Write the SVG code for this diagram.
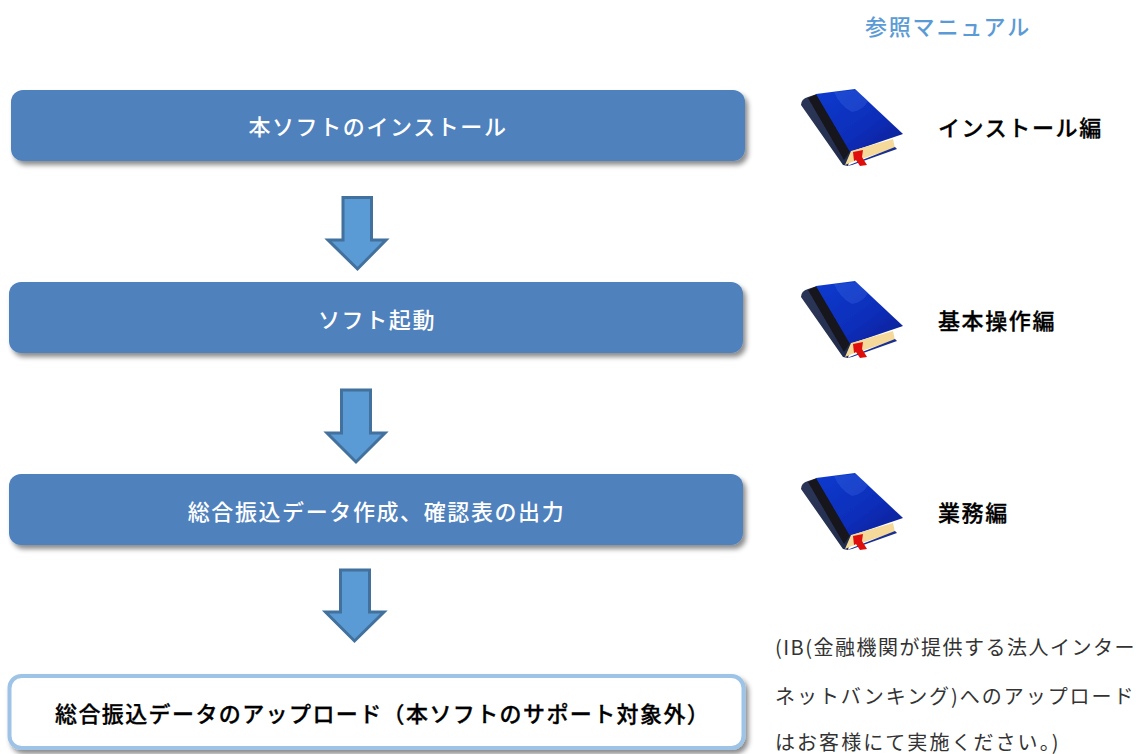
<svg xmlns="http://www.w3.org/2000/svg" width="1138" height="754" viewBox="0 0 1138 754">
<style>
text{font-family:"Noto Sans CJK JP","Noto Sans CJK SC",sans-serif;font-weight:500}
.box{fill:#4f81bd;filter:url(#sh)}
.wt{fill:#fff;font-size:22px;text-anchor:middle;letter-spacing:1.600px}
.lab{fill:#000;font-size:22px;letter-spacing:1.600px;stroke:#000;stroke-width:.3px}
.note{fill:#333;font-size:20px;font-weight:400;letter-spacing:1.500px}
.arrow{fill:#5b9bd5;stroke:#41719c;stroke-width:3}
</style>
<defs>
<filter id="sh" x="-5%" y="-20%" width="110%" height="150%"><feDropShadow dx="3" dy="4" stdDeviation="2.500" flood-color="#000" flood-opacity=".45"/></filter>
<filter id="soft" x="-5%" y="-5%" width="110%" height="110%"><feGaussianBlur stdDeviation=".6"/></filter>
<linearGradient id="cov" x1="0" y1="0" x2="1" y2="1"><stop offset="0" stop-color="#0b3bcf"/><stop offset=".6" stop-color="#0a2db8"/><stop offset="1" stop-color="#061e90"/></linearGradient>
<linearGradient id="spn" x1="0" y1="0" x2="1" y2="1"><stop offset="0" stop-color="#2d3757"/><stop offset="1" stop-color="#222c4c"/></linearGradient>
<g id="book" filter="url(#soft)">
<path d="M801 105Q801 99 808 97L817 94L852 150L848 166L843 165Z" fill="url(#spn)"/>
<path d="M808 98L817 94L851 150L844 160Z" fill="#14161f"/>
<path d="M816 94L855 89L903 134L850 152Z" fill="url(#cov)"/>
<path d="M834 92L856 90L868 101Q864 110 852 112Q840 106 834 92Z" fill="#3a63e0" opacity=".35"/>
<path d="M845 165L851 151L893 139L895 148L852 162Z" fill="#f5d99a"/>
<path d="M847 166L895 147L897 149L852 165Z" fill="#1a2f90"/>
<path d="M853 152L863 150L862 157L867 165L860 166L856 160L854 161Z" fill="#e01010"/>
</g>
</defs>
<g id="connectors">
<path class="arrow" d="M343 197.500H371.500V240H386L357.500 269L328 240H343Z"/>
<path class="arrow" d="M341.500 390H370.500V433H385L356 462L327 433H341.500Z"/>
<path class="arrow" d="M340.500 570H369.500V612H384L354.500 641L325.500 612H340.500Z"/>
</g>
<g id="node1"><rect class="box" x="11" y="90" width="734" height="71" rx="12"/><text class="wt" x="378" y="135">本ソフトのインストール</text></g>
<g id="node2"><rect class="box" x="9" y="282" width="734" height="71" rx="12"/><text class="wt" x="377" y="328">ソフト起動</text></g>
<g id="node3"><rect class="box" x="9" y="474" width="734" height="71" rx="12"/><text class="wt" x="376.500" y="520">総合振込データ作成、確認表の出力</text></g>
<g id="node4"><rect x="9.500" y="676" width="734" height="72" rx="12" fill="#fff" stroke="#9dc3e6" stroke-width="4" filter="url(#sh)"/><text x="55" y="722" font-size="22" letter-spacing="1.400" fill="#000" stroke="#000" stroke-width=".3">総合振込データのアップロード（本ソフトのサポート対象外）</text></g>
<g id="manual-title"><text x="865" y="35" font-size="22" letter-spacing="1.800" fill="#5b9bd5">参照マニュアル</text></g>
<g id="manual1"><use href="#book"/><text class="lab" x="938" y="136">インストール編</text></g>
<g id="manual2"><use href="#book" y="192"/><text class="lab" x="938" y="329">基本操作編</text></g>
<g id="manual3"><use href="#book" y="384"/><text class="lab" x="938" y="521">業務編</text></g>
<g id="note"><text class="note" x="775" y="655">(IB(金融機関が提供する法人インター</text><text class="note" x="775" y="704" textLength="360">ネットバンキング)へのアップロード</text><text class="note" x="775" y="750" textLength="285">はお客様にて実施ください。)</text></g>
</svg>
